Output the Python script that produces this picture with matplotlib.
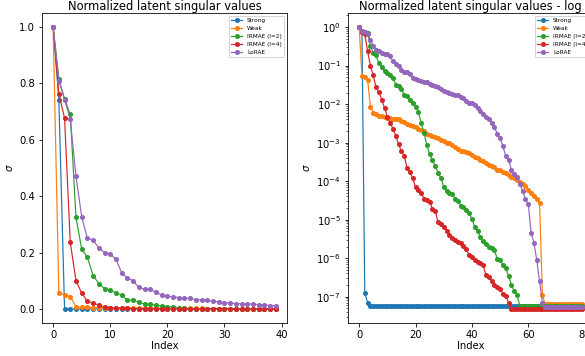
import matplotlib.pyplot as plt
import numpy as np

# normalized singular values (80 latent dims)
strong = [
    1.0, 0.743, 1.25e-7, 7.0e-8, 5.6e-8, 5.6e-8, 5.6e-8, 5.6e-8, 5.6e-8, 5.6e-8,
    5.6e-8, 5.6e-8, 5.6e-8, 5.6e-8, 5.6e-8, 5.6e-8, 5.6e-8, 5.6e-8, 5.6e-8, 5.6e-8,
    5.6e-8, 5.6e-8, 5.6e-8, 5.6e-8, 5.6e-8, 5.6e-8, 5.6e-8, 5.6e-8, 5.6e-8, 5.6e-8,
    5.6e-8, 5.6e-8, 5.6e-8, 5.6e-8, 5.6e-8, 5.6e-8, 5.6e-8, 5.6e-8, 5.6e-8, 5.6e-8,
    5.6e-8, 5.6e-8, 5.6e-8, 5.6e-8, 5.6e-8, 5.6e-8, 5.6e-8, 5.6e-8, 5.6e-8, 5.6e-8,
    5.6e-8, 5.6e-8, 5.6e-8, 5.6e-8, 5.6e-8, 5.6e-8, 5.6e-8, 5.6e-8, 5.6e-8, 5.6e-8,
    5.6e-8, 5.6e-8, 5.6e-8, 5.6e-8, 5.6e-8, 5.6e-8, 5.6e-8, 5.6e-8, 5.6e-8, 5.6e-8,
    5.6e-8, 5.6e-8, 5.6e-8, 5.6e-8, 5.6e-8, 5.6e-8, 5.6e-8, 5.6e-8, 5.6e-8, 5.6e-8,
]
weak = [
    1.0, 0.055, 0.051, 0.043, 0.0085, 0.0060, 0.0054, 0.0050, 0.0048, 0.0047,
    0.0044, 0.0043, 0.0042, 0.0041, 0.0040, 0.0036, 0.0034, 0.0031, 0.0029, 0.0027,
    0.0025, 0.0022, 0.0021, 0.0020, 0.0017, 0.0016, 0.0015, 0.0014, 0.0013, 0.0012,
    0.0011, 1.0e-3, 9.5e-4, 8.5e-4, 7.6e-4, 6.8e-4, 6.2e-4, 6.0e-4, 5.6e-4, 5.3e-4,
    4.7e-4, 4.3e-4, 3.9e-4, 3.6e-4, 3.3e-4, 2.9e-4, 2.7e-4, 2.5e-4, 2.3e-4, 2.0e-4,
    1.9e-4, 1.75e-4, 1.6e-4, 1.4e-4, 1.3e-4, 1.17e-4, 1.05e-4, 9.3e-5, 8.3e-5, 7.4e-5,
    6.0e-5, 5.0e-5, 4.1e-5, 3.5e-5, 2.75e-5, 1.1e-7, 6.3e-8, 6.3e-8, 6.3e-8, 6.3e-8,
    6.3e-8, 6.3e-8, 6.3e-8, 6.3e-8, 6.3e-8, 6.3e-8, 6.3e-8, 6.3e-8, 6.3e-8, 6.3e-8,
]
irmae2 = [
    1.0, 0.815, 0.745, 0.69, 0.325, 0.212, 0.183, 0.118, 0.09, 0.072,
    0.066, 0.057, 0.048, 0.032, 0.030, 0.025, 0.017, 0.016, 0.013, 0.011,
    0.0085, 0.0063, 0.0032, 0.0018, 8.9e-4, 5.0e-4, 3.5e-4, 2.5e-4, 1.66e-4, 1.2e-4,
    7.1e-5, 5.6e-5, 5.0e-5, 4.6e-5, 3.5e-5, 3.0e-5, 2.3e-5, 2.1e-5, 1.8e-5, 1.45e-5,
    1.05e-5, 6.3e-6, 5.2e-6, 3.5e-6, 2.8e-6, 2.3e-6, 2.0e-6, 1.8e-6, 1.6e-6, 9.5e-7,
    8.7e-7, 6.8e-7, 5.4e-7, 3.5e-7, 2.0e-7, 1.4e-7, 1.1e-7, 5.8e-8, 5.8e-8, 5.8e-8,
    5.8e-8, 5.8e-8, 5.8e-8, 5.8e-8, 5.8e-8, 5.8e-8, 5.8e-8, 5.8e-8, 5.8e-8, 5.8e-8,
    5.8e-8, 5.8e-8, 5.8e-8, 5.8e-8, 5.8e-8, 5.8e-8, 5.8e-8, 5.8e-8, 5.8e-8, 5.8e-8,
]
irmae4 = [
    1.0, 0.764, 0.677, 0.236, 0.100, 0.056, 0.027, 0.021, 0.013, 0.0080,
    0.0047, 0.0032, 0.0023, 0.0015, 9.0e-4, 6.0e-4, 4.5e-4, 2.2e-4, 1.7e-4, 1.2e-4,
    7.0e-5, 5.8e-5, 5.0e-5, 3.5e-5, 3.2e-5, 2.9e-5, 1.9e-5, 1.7e-5, 8.5e-6, 7.8e-6,
    6.3e-6, 5.2e-6, 4.0e-6, 3.4e-6, 2.9e-6, 2.6e-6, 2.4e-6, 2.1e-6, 1.7e-6, 1.2e-6,
    1.05e-6, 8.8e-7, 7.8e-7, 7.4e-7, 6.5e-7, 3.6e-7, 3.2e-7, 2.6e-7, 2.0e-7, 1.75e-7,
    1.6e-7, 1.2e-7, 1.05e-7, 7.0e-8, 4.8e-8, 4.8e-8, 4.8e-8, 4.8e-8, 4.8e-8, 4.8e-8,
    4.8e-8, 4.8e-8, 4.8e-8, 4.8e-8, 4.8e-8, 4.8e-8, 4.8e-8, 4.8e-8, 4.8e-8, 4.8e-8,
    4.8e-8, 4.8e-8, 4.8e-8, 4.8e-8, 4.8e-8, 4.8e-8, 4.8e-8, 4.8e-8, 4.8e-8, 4.8e-8,
]
lorae = [
    1.0, 0.81, 0.743, 0.674, 0.47, 0.327, 0.25, 0.245, 0.215, 0.2,
    0.195, 0.176, 0.128, 0.109, 0.1, 0.076, 0.069, 0.069, 0.059, 0.049,
    0.045, 0.043, 0.040, 0.038, 0.037, 0.033, 0.032, 0.030, 0.027, 0.025,
    0.022, 0.021, 0.019, 0.018, 0.017, 0.017, 0.015, 0.014, 0.012, 0.011,
    0.0105, 0.0093, 0.0078, 0.0065, 0.0055, 0.0047, 0.0042, 0.0033, 0.0025, 0.0017,
    0.0013, 8.0e-4, 4.5e-4, 3.5e-4, 2.0e-4, 1.5e-4, 1.25e-4, 8.5e-5, 5.5e-5, 3.4e-5,
    2.5e-5, 4.5e-6, 2.5e-6, 9.0e-7, 2.5e-7, 7.0e-8, 5.5e-8, 5.5e-8, 5.5e-8, 5.5e-8,
    5.5e-8, 5.5e-8, 5.5e-8, 5.5e-8, 5.5e-8, 5.5e-8, 5.5e-8, 5.5e-8, 5.5e-8, 5.5e-8,
]

series = {
    "Strong": strong,
    "Weak": weak,
    "IRMAE (l=2)": irmae2,
    "IRMAE (l=4)": irmae4,
    "LoRAE": lorae,
}
n_linear = 40  # first panel only shows the leading 40 values

fig = plt.figure(figsize=(585 / 72, 356 / 72), dpi=72)
# right panel runs past the edge of the canvas, as in the cropped original
ax1 = fig.add_axes([42 / 585, 33 / 356, 245 / 585, 310 / 356])
ax2 = fig.add_axes([348 / 585, 33 / 356, 245 / 585, 310 / 356])

for name, vals in series.items():
    vals = np.array(vals)
    ax1.plot(np.arange(n_linear), vals[:n_linear], marker="o", ms=4, lw=1.2, label=name)
    ax2.plot(np.arange(len(vals)), vals, marker="o", ms=4, lw=1.2, label=name)

ax1.set_title("Normalized latent singular values", fontsize=11.5, pad=2)
ax1.set_xlabel("Index", labelpad=1)
ax1.set_ylabel(r"$\sigma$")
ax1.legend(fontsize="xx-small", loc="upper right")

ax2.set_yscale("log")
ax2.set_title("Normalized latent singular values - log", fontsize=11.5, pad=2)
ax2.set_xlabel("Index", labelpad=1)
ax2.set_ylabel(r"$\sigma$")
ax2.legend(fontsize="xx-small", loc="upper right")

plt.savefig("out.png", dpi=72)
plt.close()
